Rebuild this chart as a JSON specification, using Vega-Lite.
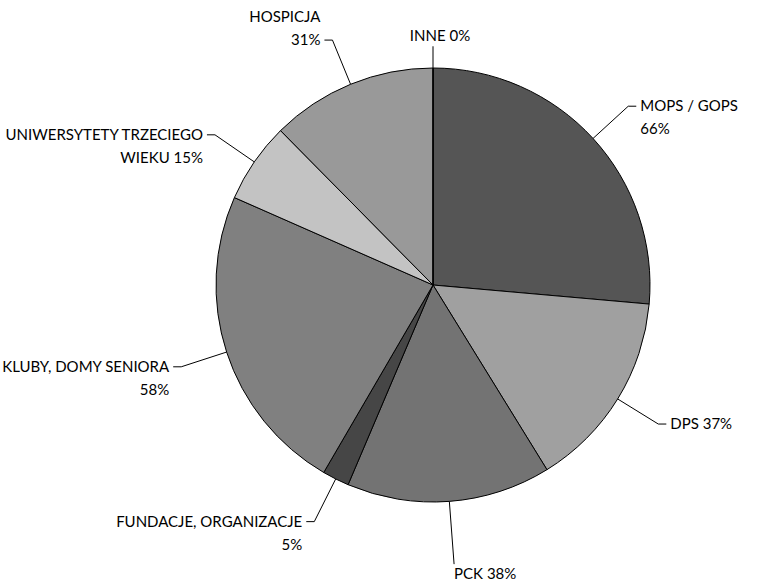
{
  "$schema": "https://vega.github.io/schema/vega-lite/v6.json",
  "width": 600,
  "height": 560,
  "autosize": "none",
  "padding": {"left": 133, "top": 5, "right": 34, "bottom": 18},
  "background": "white",
  "config": {
    "view": {"stroke": null},
    "text": {"font": "Lato", "fontSize": 15, "lineHeight": 23, "color": "black"}
  },
  "data": {
    "values": [
      {"kategoria": "MOPS / GOPS", "wartosc": 66, "kolejnosc": 1, "etykieta": "MOPS / GOPS\n66%"},
      {"kategoria": "DPS", "wartosc": 37, "kolejnosc": 2, "etykieta": "DPS 37%"},
      {"kategoria": "PCK", "wartosc": 38, "kolejnosc": 3, "etykieta": "PCK 38%"},
      {"kategoria": "FUNDACJE, ORGANIZACJE", "wartosc": 5, "kolejnosc": 4, "etykieta": "FUNDACJE, ORGANIZACJE\n5%"},
      {"kategoria": "KLUBY, DOMY SENIORA", "wartosc": 58, "kolejnosc": 5, "etykieta": "KLUBY, DOMY SENIORA\n58%"},
      {"kategoria": "UNIWERSYTETY TRZECIEGO WIEKU", "wartosc": 15, "kolejnosc": 6, "etykieta": "UNIWERSYTETY TRZECIEGO\nWIEKU 15%"},
      {"kategoria": "HOSPICJA", "wartosc": 31, "kolejnosc": 7, "etykieta": "HOSPICJA\n31%"},
      {"kategoria": "INNE", "wartosc": 0, "kolejnosc": 8, "etykieta": "INNE 0%"}
    ]
  },
  "transform": [
    {"joinaggregate": [{"op": "sum", "field": "wartosc", "as": "suma"}]},
    {"window": [{"op": "sum", "field": "wartosc", "as": "narast"}], "sort": [{"field": "kolejnosc"}], "frame": [null, 0]},
    {"calculate": "2*PI*(datum.narast - datum.wartosc/2)/datum.suma", "as": "kat"},
    {"calculate": "sin(datum.kat)", "as": "sx"},
    {"calculate": "-cos(datum.kat)", "as": "sy"},
    {"calculate": "datum.sy < -0.97 ? 'gora' : datum.sy > 0.97 ? 'dol' : (datum.sx < 0 && datum.sy < -0.7) ? 'goralewo' : datum.sx < 0 ? 'lewo' : 'prawo'", "as": "strona"},
    {"calculate": "datum.strona == 'gora' ? 1.1 : datum.strona == 'dol' ? 1.29 : 1.22", "as": "rl"},
    {"calculate": "datum.sx*datum.rl", "as": "ex"},
    {"calculate": "datum.sy*datum.rl", "as": "ey"},
    {"calculate": "datum.strona == 'prawo' ? datum.ex + 0.037 : (datum.strona == 'lewo' || datum.strona == 'goralewo') ? datum.ex - 0.037 : datum.ex", "as": "hx"}
  ],
  "layer": [
    {
      "mark": {"type": "arc", "outerRadius": 217, "stroke": "black", "strokeWidth": 1},
      "encoding": {
        "theta": {"field": "wartosc", "type": "quantitative", "stack": true},
        "order": {"field": "kolejnosc"},
        "color": {
          "field": "kategoria",
          "type": "nominal",
          "legend": null,
          "scale": {
            "domain": ["MOPS / GOPS", "DPS", "PCK", "FUNDACJE, ORGANIZACJE", "KLUBY, DOMY SENIORA", "UNIWERSYTETY TRZECIEGO WIEKU", "HOSPICJA", "INNE"],
            "range": ["#555555", "#a0a0a0", "#737373", "#464646", "#808080", "#c3c3c3", "#999999", "#bfbfbf"]
          }
        }
      }
    },
    {
      "mark": {"type": "rule", "color": "black", "strokeWidth": 1},
      "encoding": {
        "x": {"field": "sx", "type": "quantitative", "axis": null, "scale": {"domain": [-1.3825, 1.3825], "nice": false, "zero": false}},
        "y": {"field": "sy", "type": "quantitative", "axis": null, "scale": {"domain": [-1.2903, 1.2903], "nice": false, "zero": false, "reverse": true}},
        "x2": {"field": "ex"},
        "y2": {"field": "ey"}
      }
    },
    {
      "mark": {"type": "rule", "color": "black", "strokeWidth": 1},
      "encoding": {
        "x": {"field": "ex", "type": "quantitative", "axis": null, "scale": {"domain": [-1.3825, 1.3825], "nice": false, "zero": false}},
        "y": {"field": "ey", "type": "quantitative", "axis": null, "scale": {"domain": [-1.2903, 1.2903], "nice": false, "zero": false, "reverse": true}},
        "x2": {"field": "hx"},
        "y2": {"field": "ey"}
      }
    },
    {
      "transform": [{"filter": "datum.strona == 'prawo'"}],
      "mark": {"type": "text", "align": "left", "baseline": "middle", "dx": 4, "lineBreak": "\n"},
      "encoding": {
        "x": {"field": "hx", "type": "quantitative", "axis": null, "scale": {"domain": [-1.3825, 1.3825], "nice": false, "zero": false}},
        "y": {"field": "ey", "type": "quantitative", "axis": null, "scale": {"domain": [-1.2903, 1.2903], "nice": false, "zero": false, "reverse": true}},
        "text": {"field": "etykieta"}
      }
    },
    {
      "transform": [{"filter": "datum.strona == 'lewo'"}],
      "mark": {"type": "text", "align": "right", "baseline": "middle", "dx": -4, "lineBreak": "\n"},
      "encoding": {
        "x": {"field": "hx", "type": "quantitative", "axis": null, "scale": {"domain": [-1.3825, 1.3825], "nice": false, "zero": false}},
        "y": {"field": "ey", "type": "quantitative", "axis": null, "scale": {"domain": [-1.2903, 1.2903], "nice": false, "zero": false, "reverse": true}},
        "text": {"field": "etykieta"}
      }
    },
    {
      "transform": [{"filter": "datum.strona == 'goralewo'"}],
      "mark": {"type": "text", "align": "right", "baseline": "middle", "dx": -4, "dy": -23, "lineBreak": "\n"},
      "encoding": {
        "x": {"field": "hx", "type": "quantitative", "axis": null, "scale": {"domain": [-1.3825, 1.3825], "nice": false, "zero": false}},
        "y": {"field": "ey", "type": "quantitative", "axis": null, "scale": {"domain": [-1.2903, 1.2903], "nice": false, "zero": false, "reverse": true}},
        "text": {"field": "etykieta"}
      }
    },
    {
      "transform": [{"filter": "datum.strona == 'gora'"}],
      "mark": {"type": "text", "align": "center", "baseline": "bottom", "dx": 7, "dy": -2, "lineBreak": "\n"},
      "encoding": {
        "x": {"field": "hx", "type": "quantitative", "axis": null, "scale": {"domain": [-1.3825, 1.3825], "nice": false, "zero": false}},
        "y": {"field": "ey", "type": "quantitative", "axis": null, "scale": {"domain": [-1.2903, 1.2903], "nice": false, "zero": false, "reverse": true}},
        "text": {"field": "etykieta"}
      }
    },
    {
      "transform": [{"filter": "datum.strona == 'dol'"}],
      "mark": {"type": "text", "align": "left", "baseline": "top", "dy": 3, "lineBreak": "\n"},
      "encoding": {
        "x": {"field": "hx", "type": "quantitative", "axis": null, "scale": {"domain": [-1.3825, 1.3825], "nice": false, "zero": false}},
        "y": {"field": "ey", "type": "quantitative", "axis": null, "scale": {"domain": [-1.2903, 1.2903], "nice": false, "zero": false, "reverse": true}},
        "text": {"field": "etykieta"}
      }
    }
  ]
}
